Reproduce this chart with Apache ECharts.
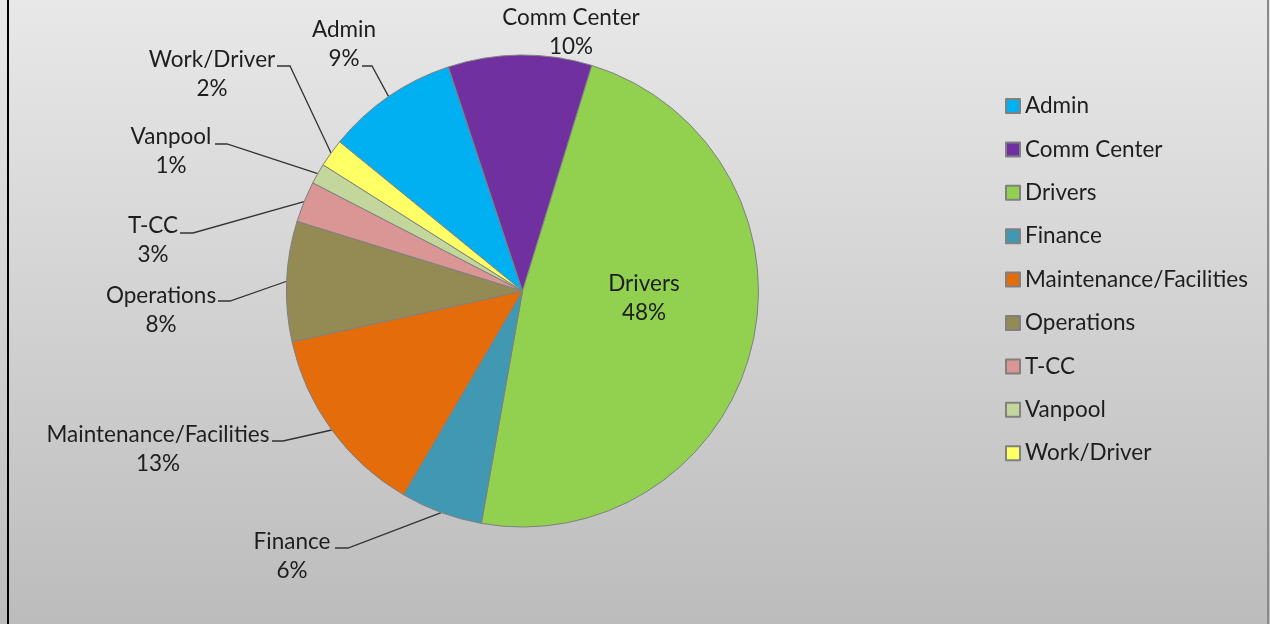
<!DOCTYPE html>
<html>
<head>
<meta charset="utf-8">
<script src="https://cdn.jsdelivr.net/npm/echarts@6/dist/echarts.min.js"></script>
<style>
html,body{margin:0;padding:0;background:#e6e6e6;}
#chart{width:1270px;height:624px;}
</style>
</head>
<body>
<div id="chart"></div>
<script>
// ---- data ----
const categories = ['Admin', 'Comm Center', 'Drivers', 'Finance', 'Maintenance/Facilities', 'Operations', 'T-CC', 'Vanpool', 'Work/Driver'];
const shares = [9.0, 9.8, 47.9, 5.6, 13.1, 8.2, 2.8, 1.4, 1.9];

// ---- styling / layout (not data) ----
const colors = ['#00b0f0', '#7030a0', '#92d050', '#4198b3', '#e46c0a', '#948a54', '#d99694', '#c3d69b', '#ffff66'];
const FONT = 'Lato';
// label text-block centre and leader stub [xEnd, xKnee, y]
const labelPlace = [
  { x: 344, y: 44, stub: [362, 372, 66] },    // Admin
  { x: 571, y: 32, stub: null },              // Comm Center
  { x: 644, y: 298, stub: null },             // Drivers
  { x: 292, y: 556, stub: [335, 348, 548] },  // Finance
  { x: 158, y: 449, stub: [272, 283, 441] },  // Maintenance/Facilities
  { x: 161, y: 310, stub: [218, 230, 301] },  // Operations
  { x: 153, y: 240, stub: [180, 193, 233] },  // T-CC
  { x: 171, y: 151, stub: [215, 227, 144] },  // Vanpool
  { x: 212, y: 74, stub: [277, 290, 66] }     // Work/Driver
];

const pieData = categories.map((name, i) => ({
  name: name,
  value: shares[i],
  itemStyle: { color: colors[i] },
  labelLine: { show: labelPlace[i].stub !== null }
}));

const chart = echarts.init(document.getElementById('chart'), null, { renderer: 'canvas' });
chart.setOption({
  backgroundColor: {
    type: 'linear', x: 0, y: 0, x2: 0, y2: 1,
    colorStops: [{ offset: 0, color: '#e8e8e8' }, { offset: 1, color: '#bcbcbc' }]
  },
  animation: false,
  textStyle: { fontFamily: FONT },
  legend: {
    orient: 'vertical',
    left: 1005,
    top: 94,
    padding: 0,
    itemWidth: 14,
    itemHeight: 14,
    itemGap: 19.4,
    icon: 'rect',
    data: categories,
    textStyle: { fontFamily: FONT, fontSize: 22.5, color: '#1e1e1e', lineHeight: 24 }
  },
  graphic: [
    { type: 'line', shape: { x1: 8, y1: 0, x2: 8, y2: 624 }, style: { stroke: '#000', lineWidth: 2 } },
    { type: 'line', shape: { x1: 1268, y1: 0, x2: 1268, y2: 624 }, style: { stroke: '#8a8a8a', lineWidth: 2 } }
  ],
  series: [{
    type: 'pie',
    center: [522.5, 291],
    radius: 236,
    startAngle: 140.8,
    clockwise: true,
    avoidLabelOverlap: false,
    percentPrecision: 0,
    itemStyle: { borderColor: '#808080', borderWidth: 1 },
    label: {
      show: true,
      position: 'outside',
      formatter: '{b}\n{d}%',
      fontFamily: FONT,
      fontSize: 22.5,
      lineHeight: 29,
      color: '#1e1e1e',
      align: 'center'
    },
    labelLine: { show: true, lineStyle: { color: '#333', width: 1.3 } },
    labelLayout: function (params) {
      const p = labelPlace[params.dataIndex];
      const out = { x: p.x, y: p.y, align: 'center', verticalAlign: 'middle' };
      if (p.stub && params.labelLinePoints) {
        out.labelLinePoints = [
          params.labelLinePoints[0],
          [p.stub[1], p.stub[2]],
          [p.stub[0], p.stub[2]]
        ];
      }
      return out;
    },
    emphasis: { disabled: true },
    data: pieData
  }]
});
</script>
</body>
</html>
